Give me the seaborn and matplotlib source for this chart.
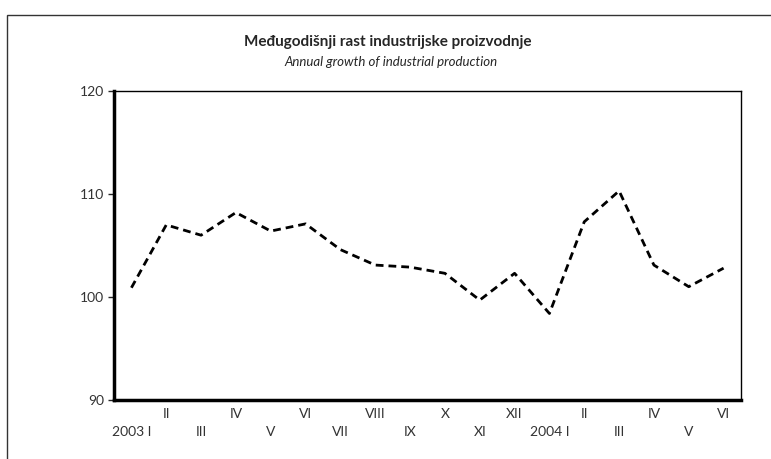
import matplotlib
matplotlib.use("Agg")
import matplotlib.pyplot as plt
import seaborn as sns
import pandas as pd
from matplotlib.patches import Rectangle

months = ["2003 I", "II", "III", "IV", "V", "VI", "VII", "VIII", "IX", "X", "XI", "XII",
          "2004 I", "II", "III", "IV", "V", "VI"]
values = [100.9, 107.0, 106.0, 108.2, 106.4, 107.1, 104.6, 103.1, 102.9, 102.3,
          99.7, 102.3, 98.4, 107.3, 110.3, 103.1, 101.0, 102.8]
yticks = [90, 100, 110, 120]
title = "Međugodišnji rast industrijske proizvodnje"
subtitle = "Annual growth of industrial production"

sns.set_theme(style="white")
plt.rcParams['font.family'] = ['Lato', 'DejaVu Sans']

W, H = 771, 459
fig = plt.figure(figsize=(W / 100, H / 100), dpi=100)
ax = fig.add_axes([114 / W, 1 - 400 / H, (741 - 114) / W, (400 - 91) / H])

df = pd.DataFrame({"idx": list(range(len(values))), "value": values})
sns.lineplot(data=df, x="idx", y="value", ax=ax, color="black", linewidth=2.0)
ax.lines[0].set_dashes([2.8, 1.8])

ax.set_xlim(-0.5, len(values) - 0.5)
ax.set_ylim(90, 120)
ax.set_yticks(yticks)
ax.set_yticklabels([str(t) for t in yticks], fontsize=10, color="#333333")
ax.tick_params(axis="y", direction="out", length=4, width=1, pad=3, left=True)
ax.set_xticks(range(len(values)))
ax.set_xticklabels([])
ax.tick_params(axis="x", length=0)
ax.set_xlabel("")
ax.set_ylabel("")

for i, lab in enumerate(months):
    yoff = -0.044 if i % 2 == 1 else -0.105
    ax.text(i, yoff, lab, transform=ax.get_xaxis_transform(), ha="center", va="center",
            fontsize=10, color="#333333")

for s in ["left", "bottom"]:
    ax.spines[s].set_linewidth(2.5)
    ax.spines[s].set_color("black")
for s in ["top", "right"]:
    ax.spines[s].set_linewidth(1.0)
    ax.spines[s].set_color("black")

fig.text(388 / W, 1 - 42 / H, title, ha="center", va="center", fontsize=11, fontweight="bold")
fig.text(391 / W, 1 - 62 / H, subtitle, ha="center", va="center", fontsize=9.5, style="italic")

fig.patches.append(Rectangle((7 / W, -0.05), 1.2, 1 - 15 / H + 0.05, transform=fig.transFigure,
                             fill=False, edgecolor="#333333", linewidth=1.0))

fig.savefig("out.png", dpi=100)
